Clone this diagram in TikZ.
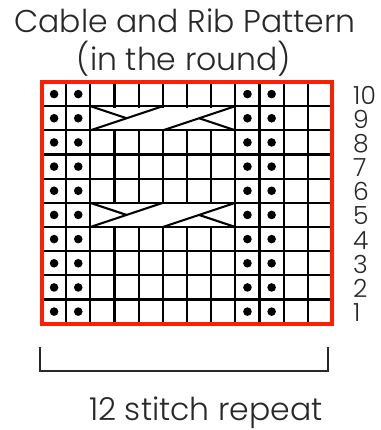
\documentclass[tikz,border=0pt]{standalone}
\usepackage{fontspec}
\IfFontExistsTF{Poppins Light}{\setmainfont{Poppins Light}}{\setmainfont{Poppins}}
\usepackage{xcolor}
\definecolor{chartred}{RGB}{255,30,0}
\definecolor{inkgray}{RGB}{40,40,40}

\tikzset{
  label text/.style={text=inkgray, inner sep=0pt, anchor=base},
  grid line/.style={line width=2.1pt, black},
  purl dot/.style={fill=black},
}
\newcommand{\cs}{24.17}

\begin{document}
\begin{tikzpicture}[x=1pt, y=-1pt]
			\useasboundingbox (0,0) rectangle (380,430);
			
			% Title
			\node[label text, font=\fontsize{31.5}{31.5}\selectfont] (title) at (185,33) {Cable and Rib Pattern};
			\node[label text, font=\fontsize{31.5}{31.5}\selectfont] (subtitle) at (184,71) {(in the round)};
			
			% Grid, origin at top left corner of the chart
			\begin{scope}[shift={(42,82)}]
				\foreach \r in {1,...,9}
				\draw[grid line] (0,\r*\cs) -- (12*\cs,\r*\cs);
				\foreach \c in {1,...,11}
				\draw[grid line] (\c*\cs,0) -- (\c*\cs,10*\cs);
				
				% Cable rows (rows 9 and 5)
				\foreach \r in {1,5} {
					\fill[white] (2*\cs+1.4,\r*\cs+1.4) rectangle (8*\cs-1.4,\r*\cs+\cs-1.4);
					\draw[grid line] (2*\cs,\r*\cs+\cs) -- (5*\cs,\r*\cs);
					\draw[grid line] (5*\cs,\r*\cs+\cs) -- (8*\cs,\r*\cs);
					\draw[grid line] (2*\cs,\r*\cs) -- (3.5*\cs,\r*\cs+0.5*\cs);
					\draw[grid line] (6.5*\cs,\r*\cs+0.5*\cs) -- (8*\cs,\r*\cs+\cs);
				}
				
				% Purl dots
				\foreach \c in {0,1,8,9}
				\foreach \r in {0,...,9}
				\fill[purl dot] (\c*\cs+0.5*\cs,\r*\cs+0.5*\cs) circle (4.3);
				
				% Red border
				\draw[chartred, line width=4pt] (0,0) rectangle (12*\cs,10*\cs);
				
				% Row numbers
				\foreach \r in {1,...,10}
				\node[label text, anchor=west, font=\fontsize{25}{25}\selectfont] (row\r) at (311,10*\cs-\r*\cs+0.5*\cs+1) {\r};
			\end{scope}
			
			% Repeat bracket
			\draw[line width=1.6pt, inkgray] (40,347) -- (40,371) -- (328,371) -- (328,347);
			\node[label text, font=\fontsize{31.5}{31.5}\selectfont] (repeat) at (206,420) {12 stitch repeat};
		\end{tikzpicture}
\end{document}
